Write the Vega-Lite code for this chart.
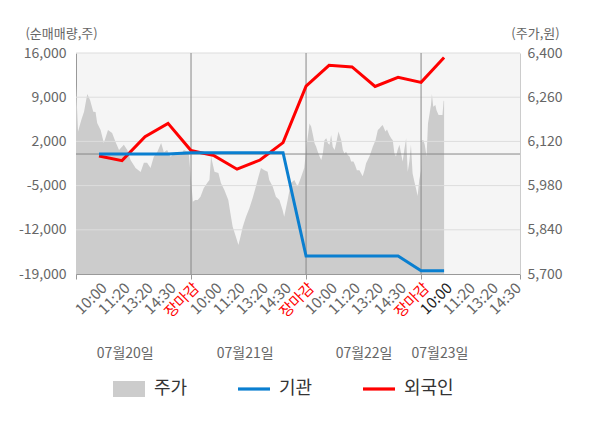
{
  "$schema": "https://vega.github.io/schema/vega-lite/v6.json",
  "width": 444,
  "height": 221,
  "autosize": {"type": "none"},
  "padding": {"left": 76, "top": 53, "right": 80, "bottom": 154},
  "background": "#ffffff",
  "config": {
    "font": "Noto Sans CJK KR",
    "view": {"fill": "#f5f5f5", "stroke": null},
    "axis": {
      "labelFont": "Noto Sans CJK KR",
      "titleFont": "Noto Sans CJK KR",
      "labelColor": "#666666",
      "titleColor": "#666666",
      "labelFontSize": 14,
      "titleFontSize": 13,
      "titleFontWeight": "normal",
      "grid": false,
      "domainColor": "#999999",
      "tickColor": "#999999"
    }
  },
  "datasets": {
    "price": [
      {"slot": 0, "price": 6299}, {"slot": 0.09, "price": 6151}, {"slot": 0.23, "price": 6188},
      {"slot": 0.35, "price": 6214}, {"slot": 0.49, "price": 6270}, {"slot": 0.61, "price": 6251},
      {"slot": 0.75, "price": 6214}, {"slot": 0.85, "price": 6213}, {"slot": 0.92, "price": 6178},
      {"slot": 1.07, "price": 6156}, {"slot": 1.21, "price": 6115}, {"slot": 1.39, "price": 6156},
      {"slot": 1.57, "price": 6147}, {"slot": 1.72, "price": 6118}, {"slot": 1.87, "price": 6093},
      {"slot": 2.08, "price": 6109}, {"slot": 2.23, "price": 6093}, {"slot": 2.37, "price": 6061},
      {"slot": 2.59, "price": 6036}, {"slot": 2.81, "price": 6023}, {"slot": 2.95, "price": 6052},
      {"slot": 3.09, "price": 6052}, {"slot": 3.24, "price": 6036}, {"slot": 3.38, "price": 6071},
      {"slot": 3.53, "price": 6086}, {"slot": 3.70, "price": 6115}, {"slot": 3.82, "price": 6086},
      {"slot": 3.96, "price": 6093}, {"slot": 4.11, "price": 6071}, {"slot": 4.33, "price": 6086},
      {"slot": 4.54, "price": 6077}, {"slot": 4.69, "price": 6093}, {"slot": 4.90, "price": 6086},
      {"slot": 5.00, "price": 5998}, {"slot": 5.08, "price": 5929}, {"slot": 5.18, "price": 5934},
      {"slot": 5.29, "price": 5934}, {"slot": 5.41, "price": 5945}, {"slot": 5.55, "price": 5972},
      {"slot": 5.70, "price": 5988}, {"slot": 5.80, "price": 5998}, {"slot": 5.87, "price": 6072},
      {"slot": 6.02, "price": 6024}, {"slot": 6.19, "price": 6020}, {"slot": 6.30, "price": 5988},
      {"slot": 6.45, "price": 5966}, {"slot": 6.62, "price": 5934}, {"slot": 6.71, "price": 5893},
      {"slot": 6.81, "price": 5850}, {"slot": 6.95, "price": 5818}, {"slot": 7.06, "price": 5792},
      {"slot": 7.15, "price": 5818}, {"slot": 7.25, "price": 5850}, {"slot": 7.39, "price": 5881},
      {"slot": 7.54, "price": 5909}, {"slot": 7.68, "price": 5941}, {"slot": 7.82, "price": 5977},
      {"slot": 7.93, "price": 6008}, {"slot": 8.04, "price": 6036}, {"slot": 8.19, "price": 6029},
      {"slot": 8.33, "price": 6024}, {"slot": 8.40, "price": 5998}, {"slot": 8.55, "price": 5977},
      {"slot": 8.69, "price": 5945}, {"slot": 8.84, "price": 5934}, {"slot": 8.98, "price": 5903},
      {"slot": 9.05, "price": 5881}, {"slot": 9.20, "price": 5934}, {"slot": 9.34, "price": 5988},
      {"slot": 9.49, "price": 5998}, {"slot": 9.63, "price": 5977}, {"slot": 9.77, "price": 6004},
      {"slot": 9.92, "price": 6036}, {"slot": 10.03, "price": 6109}, {"slot": 10.15, "price": 6177},
      {"slot": 10.22, "price": 6167}, {"slot": 10.30, "price": 6140}, {"slot": 10.37, "price": 6114},
      {"slot": 10.44, "price": 6103}, {"slot": 10.51, "price": 6087}, {"slot": 10.59, "price": 6072},
      {"slot": 10.66, "price": 6061}, {"slot": 10.73, "price": 6082}, {"slot": 10.80, "price": 6124},
      {"slot": 10.88, "price": 6130}, {"slot": 10.95, "price": 6114}, {"slot": 11.02, "price": 6109},
      {"slot": 11.09, "price": 6140}, {"slot": 11.16, "price": 6103}, {"slot": 11.24, "price": 6093},
      {"slot": 11.31, "price": 6114}, {"slot": 11.41, "price": 6151}, {"slot": 11.53, "price": 6124},
      {"slot": 11.60, "price": 6093}, {"slot": 11.67, "price": 6082}, {"slot": 11.74, "price": 6087},
      {"slot": 11.81, "price": 6077}, {"slot": 11.89, "price": 6072}, {"slot": 11.96, "price": 6056},
      {"slot": 12.06, "price": 6056}, {"slot": 12.13, "price": 6045}, {"slot": 12.21, "price": 6029},
      {"slot": 12.32, "price": 6029}, {"slot": 12.39, "price": 6019}, {"slot": 12.46, "price": 6010},
      {"slot": 12.54, "price": 6029}, {"slot": 12.61, "price": 6051}, {"slot": 12.68, "price": 6061},
      {"slot": 12.78, "price": 6077}, {"slot": 12.90, "price": 6103}, {"slot": 13.02, "price": 6124},
      {"slot": 13.12, "price": 6156}, {"slot": 13.19, "price": 6161}, {"slot": 13.26, "price": 6167},
      {"slot": 13.33, "price": 6172}, {"slot": 13.45, "price": 6151}, {"slot": 13.52, "price": 6158},
      {"slot": 13.62, "price": 6140}, {"slot": 13.70, "price": 6130}, {"slot": 13.77, "price": 6124},
      {"slot": 13.84, "price": 6082}, {"slot": 13.91, "price": 6072}, {"slot": 13.98, "price": 6093},
      {"slot": 14.06, "price": 6109}, {"slot": 14.13, "price": 6082}, {"slot": 14.20, "price": 6056},
      {"slot": 14.27, "price": 6093}, {"slot": 14.35, "price": 6130}, {"slot": 14.42, "price": 6024},
      {"slot": 14.49, "price": 6056}, {"slot": 14.56, "price": 6109}, {"slot": 14.63, "price": 6019},
      {"slot": 14.71, "price": 5992}, {"slot": 14.78, "price": 5971}, {"slot": 14.85, "price": 5947},
      {"slot": 14.92, "price": 5998}, {"slot": 15.00, "price": 6029}, {"slot": 15.04, "price": 6124},
      {"slot": 15.10, "price": 6124}, {"slot": 15.16, "price": 6109}, {"slot": 15.24, "price": 6072},
      {"slot": 15.30, "price": 6177}, {"slot": 15.36, "price": 6204}, {"slot": 15.43, "price": 6235},
      {"slot": 15.47, "price": 6270}, {"slot": 15.53, "price": 6230}, {"slot": 15.62, "price": 6235},
      {"slot": 15.67, "price": 6219}, {"slot": 15.76, "price": 6204}, {"slot": 15.86, "price": 6204},
      {"slot": 15.93, "price": 6204}, {"slot": 15.98, "price": 6249}, {"slot": 16.00, "price": 6248}
    ],
    "flow": [
      {"slot": 1, "series": "외국인", "net": -300},
      {"slot": 2, "series": "외국인", "net": -1050},
      {"slot": 3, "series": "외국인", "net": 2750},
      {"slot": 4, "series": "외국인", "net": 4850},
      {"slot": 5, "series": "외국인", "net": 550},
      {"slot": 6, "series": "외국인", "net": -250},
      {"slot": 7, "series": "외국인", "net": -2400},
      {"slot": 8, "series": "외국인", "net": -950},
      {"slot": 9, "series": "외국인", "net": 1800},
      {"slot": 10, "series": "외국인", "net": 10750},
      {"slot": 11, "series": "외국인", "net": 14050},
      {"slot": 12, "series": "외국인", "net": 13800},
      {"slot": 13, "series": "외국인", "net": 10700},
      {"slot": 14, "series": "외국인", "net": 12150},
      {"slot": 15, "series": "외국인", "net": 11350},
      {"slot": 16, "series": "외국인", "net": 15300},
      {"slot": 1, "series": "기관", "net": 0},
      {"slot": 2, "series": "기관", "net": 0},
      {"slot": 3, "series": "기관", "net": 0},
      {"slot": 4, "series": "기관", "net": 0},
      {"slot": 5, "series": "기관", "net": 200},
      {"slot": 6, "series": "기관", "net": 200},
      {"slot": 7, "series": "기관", "net": 200},
      {"slot": 8, "series": "기관", "net": 200},
      {"slot": 9, "series": "기관", "net": 200},
      {"slot": 10, "series": "기관", "net": -16150},
      {"slot": 11, "series": "기관", "net": -16150},
      {"slot": 12, "series": "기관", "net": -16150},
      {"slot": 13, "series": "기관", "net": -16150},
      {"slot": 14, "series": "기관", "net": -16150},
      {"slot": 15, "series": "기관", "net": -18500},
      {"slot": 16, "series": "기관", "net": -18500}
    ],
    "days": [
      {"slot": 5}, {"slot": 10}, {"slot": 15}
    ],
    "grid": [
      {"net": 16000}, {"net": 9000}, {"net": 2000}, {"net": -5000}, {"net": -12000}
    ],
    "zero": [
      {"net": 0}
    ]
  },
  "resolve": {"scale": {"y": "independent"}, "axis": {"x": "independent"}},
  "layer": [
    {
      "data": {"name": "price"},
      "mark": {"type": "area"},
      "encoding": {
        "x": {
          "field": "slot",
          "type": "quantitative",
          "scale": {"domain": [0, 19.3], "nice": false, "zero": false},
          "axis": {
            "orient": "bottom",
            "title": null,
            "values": [0, 1, 2, 3, 4, 5, 6, 7, 8, 9, 10, 11, 12, 13, 14, 15, 16, 17, 18, 19, 19.3],
            "labelExpr": "datum.value < 1 || datum.value > 19 ? '' : ['장마감', '10:00', '11:20', '13:20', '14:30'][datum.value % 5]",
            "labelAngle": -45,
            "labelFontSize": 15,
            "labelOverlap": false,
            "labelFlush": false,
            "labelBound": false,
            "labelPadding": 1,
            "tickSize": 5,
            "tickOpacity": {"condition": {"test": "datum.value % 5 === 0 || datum.value > 19", "value": 1}, "value": 0},
            "labelColor": {
              "condition": [
                {"test": "datum.value % 5 === 0", "value": "#ff0000"},
                {"test": "datum.value === 16", "value": "#222222"}
              ],
              "value": "#666666"
            }
          }
        },
        "y": {
          "field": "price",
          "type": "quantitative",
          "scale": {"domain": [5700, 6400], "nice": false, "zero": false},
          "axis": {
            "orient": "right",
            "values": [5700, 5840, 5980, 6120, 6260, 6400],
            "format": ",d",
            "title": "(주가,원)",
            "titleAngle": 0,
            "titleX": 15,
            "titleY": -20,
            "titleAlign": "center",
            "titleBaseline": "middle",
            "ticks": false,
            "labelPadding": 7,
            "domainColor": "#cccccc"
          }
        },
        "y2": {"datum": 5700},
        "color": {
          "datum": "주가",
          "type": "nominal",
          "title": null,
          "scale": {"domain": ["주가", "기관", "외국인"], "range": ["#cccccc", "#0a7fd0", "#ff0000"]},
          "legend": {
            "title": null,
            "orient": "none",
            "legendX": 37,
            "legendY": 320,
            "direction": "horizontal",
            "labelFont": "Noto Sans CJK KR",
            "labelFontSize": 18,
            "labelColor": "#333333",
            "labelOffset": 9,
            "symbolSize": 1024,
            "columnPadding": 50,
            "encode": {
              "symbols": {
                "update": {
                  "shape": {"signal": "datum.value === '주가' ? 'M-1,-0.5H1V0.5H-1Z' : 'M-1,-0.1H1V0.1H-1Z'"},
                  "fill": {"signal": "scale('color', datum.value)"},
                  "strokeWidth": {"value": 0},
                  "opacity": {"value": 1}
                }
              }
            }
          }
        }
      }
    },
    {
      "data": {"name": "grid"},
      "mark": {"type": "rule", "color": "#dddddd", "strokeWidth": 1},
      "encoding": {
        "y": {
          "field": "net",
          "type": "quantitative",
          "scale": {"domain": [-19000, 16000], "nice": false, "zero": false},
          "axis": {
            "orient": "left",
            "values": [-19000, -12000, -5000, 2000, 9000, 16000],
            "format": ",d",
            "labelExpr": "replace(datum.label, '\u2212', '-')",
            "title": "(순매매량,주)",
            "titleAngle": 0,
            "titleX": -15,
            "titleY": -20,
            "titleAlign": "center",
            "titleBaseline": "middle",
            "ticks": false,
            "labelPadding": 10
          }
        }
      }
    },
    {
      "data": {"name": "days"},
      "mark": {"type": "rule", "color": "#888888", "strokeWidth": 1},
      "encoding": {
        "x": {
          "field": "slot",
          "type": "quantitative",
          "scale": {"domain": [0, 19.3], "nice": false, "zero": false},
          "axis": {
            "orient": "bottom",
            "offset": 79,
            "title": null,
            "domain": false,
            "ticks": false,
            "labelPadding": 0,
            "labelAngle": 0,
            "labelBaseline": "middle",
            "labelAlign": "center",
            "labelOverlap": false,
            "labelFlush": false,
            "labelBound": false,
            "values": [2.12, 7.33, 12.5, 15.8],
            "labelExpr": "datum.value < 5 ? '07월20일' : datum.value < 10 ? '07월21일' : datum.value < 15 ? '07월22일' : '07월23일'"
          }
        }
      }
    },
    {
      "data": {"name": "zero"},
      "mark": {"type": "rule", "color": "#888888", "strokeWidth": 1},
      "encoding": {
        "y": {"field": "net", "type": "quantitative", "scale": {"domain": [-19000, 16000], "nice": false, "zero": false}, "axis": null}
      }
    },
    {
      "data": {"name": "flow"},
      "transform": [{"filter": "datum.series === '외국인'"}],
      "mark": {"type": "line", "strokeWidth": 3},
      "encoding": {
        "x": {"field": "slot", "type": "quantitative", "scale": {"domain": [0, 19.3], "nice": false, "zero": false}, "axis": null},
        "y": {"field": "net", "type": "quantitative", "scale": {"domain": [-19000, 16000], "nice": false, "zero": false}, "axis": null},
        "color": {"field": "series", "type": "nominal", "title": null}
      }
    },
    {
      "data": {"name": "flow"},
      "transform": [{"filter": "datum.series === '기관'"}],
      "mark": {"type": "line", "strokeWidth": 3},
      "encoding": {
        "x": {"field": "slot", "type": "quantitative", "scale": {"domain": [0, 19.3], "nice": false, "zero": false}, "axis": null},
        "y": {"field": "net", "type": "quantitative", "scale": {"domain": [-19000, 16000], "nice": false, "zero": false}, "axis": null},
        "color": {"field": "series", "type": "nominal", "title": null}
      }
    }
  ]
}
